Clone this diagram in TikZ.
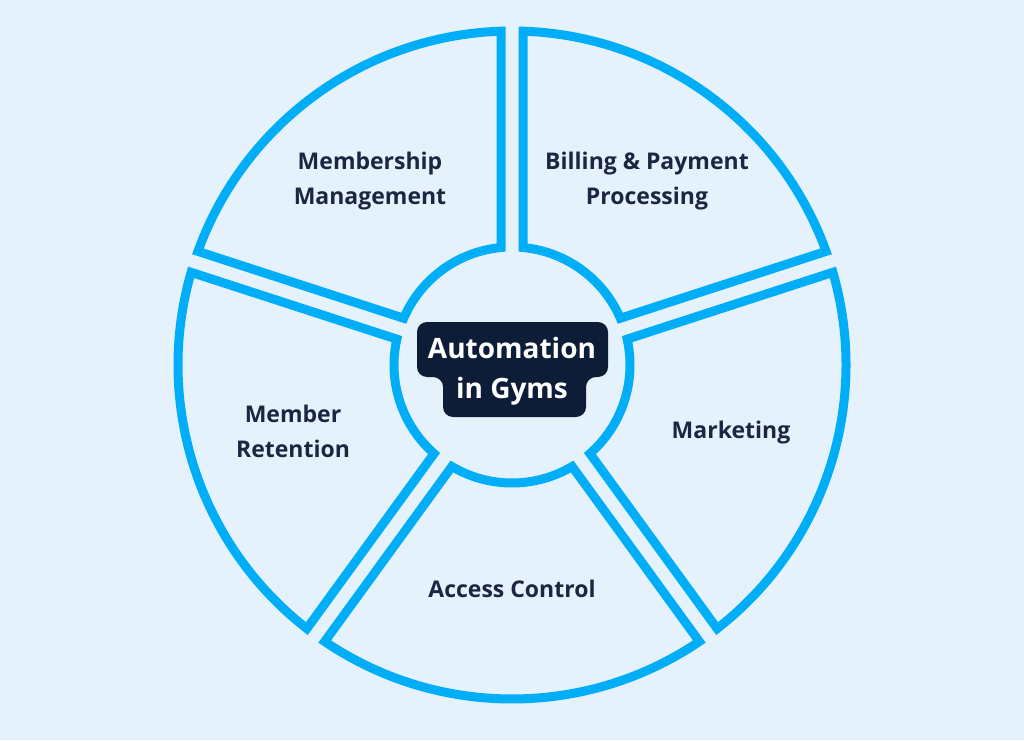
\documentclass[tikz,border=0pt]{standalone}
\usepackage{fontspec}
\setmainfont{Open Sans}

\definecolor{bgblue}{RGB}{230,242,251}
\definecolor{ringblue}{RGB}{0,174,247}
\definecolor{navy}{RGB}{28,38,66}
\definecolor{boxnavy}{RGB}{13,29,56}

\begin{document}
\begin{tikzpicture}[x=1pt, y=1pt,
        segment/.style={draw=ringblue, line width=9pt, fill=bgblue},
        seglabel/.style={text=navy, font=\fontsize{23}{35}\selectfont\bfseries, align=center},
        hublabel/.style={text=white, font=\fontsize{28}{40}\selectfont\bfseries, align=center}]
        \fill[bgblue] (0,0) rectangle (1024,740);
        \useasboundingbox (0,0) rectangle (1024,740);

        % five ring segments around the hub
        \begin{scope}[shift={(512,375)}]
        \draw[segment] (23.35:118) -- (19.89:334) arc[start angle=19.89, end angle=88.11, radius=334]
            -- (84.65:118) arc[start angle=84.65, end angle=23.35, radius=118] -- cycle;
        \draw[segment] (95.35:118) -- (91.89:334) arc[start angle=91.89, end angle=160.11, radius=334]
            -- (156.65:118) arc[start angle=156.65, end angle=95.35, radius=118] -- cycle;
        \draw[segment] (167.35:118) -- (163.89:334) arc[start angle=163.89, end angle=232.11, radius=334]
            -- (228.65:118) arc[start angle=228.65, end angle=167.35, radius=118] -- cycle;
        \draw[segment] (239.35:118) -- (235.89:334) arc[start angle=235.89, end angle=304.11, radius=334]
            -- (300.65:118) arc[start angle=300.65, end angle=239.35, radius=118] -- cycle;
        \draw[segment] (311.35:118) -- (307.89:334) arc[start angle=307.89, end angle=376.11, radius=334]
            -- (372.65:118) arc[start angle=372.65, end angle=311.35, radius=118] -- cycle;
        \end{scope}

        \node[seglabel] (billing) at (647, 559) {Billing \& Payment\\Processing};
        \node[seglabel] (membership) at (370, 559) {Membership\\Management};
        \node[seglabel] (retention) at (293, 309) {Member\\Retention};
        \node[seglabel] (access) at (512, 151) {Access Control};
        \node[seglabel] (marketing) at (731, 307) {Marketing};

        % dark tag in the middle
        \fill[boxnavy, rounded corners=10pt] (417,418) -- (608,418) -- (608,363) -- (586,363)
            -- (586,323) -- (443,323) -- (443,363) -- (417,363) -- cycle;
        \node[hublabel] (hub) at (512, 369) {Automation\\in Gyms};
    \end{tikzpicture}
\end{document}
